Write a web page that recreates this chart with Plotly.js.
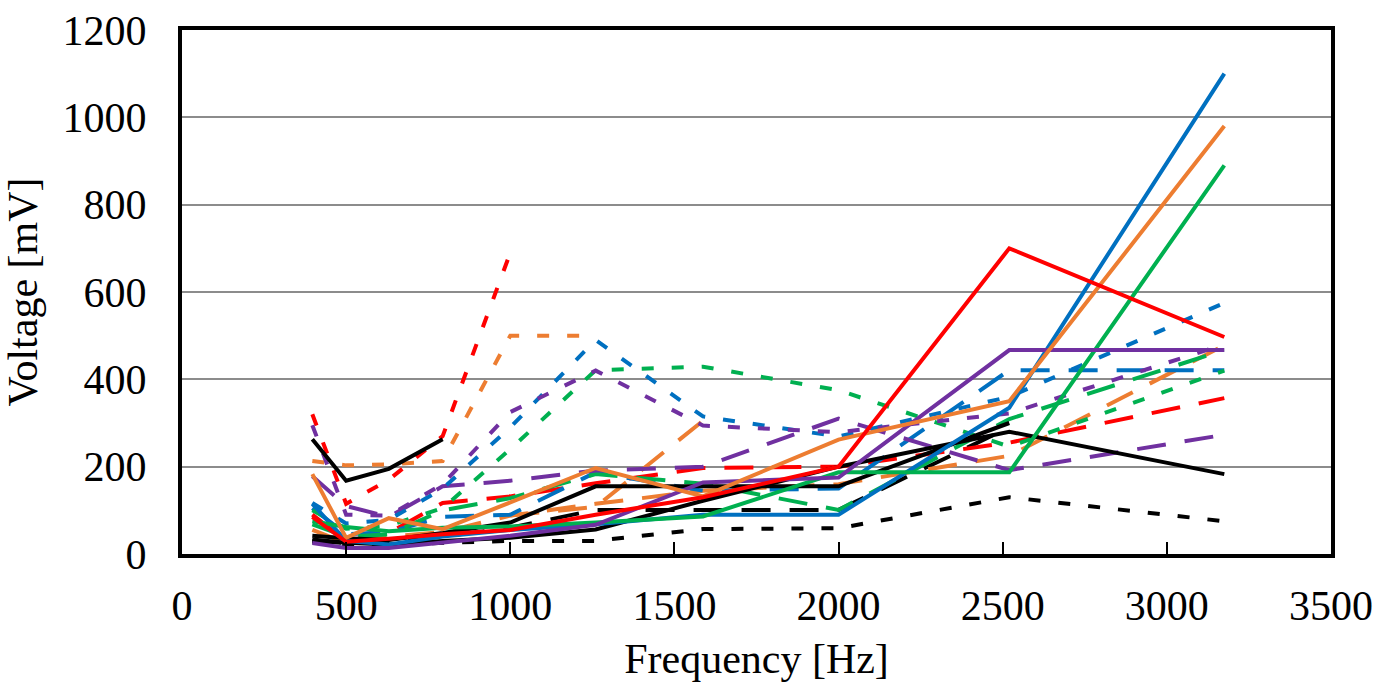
<!DOCTYPE html>
<html>
<head>
<meta charset="utf-8">
<script src="https://cdn.plot.ly/plotly-3.0.1.min.js"></script>
<style>
  html, body { margin: 0; padding: 0; background: #ffffff; }
  #chart { width: 1395px; height: 684px; }
</style>
</head>
<body>
<div id="chart"></div>
<script>
// One-third-octave band centre frequencies [Hz]
const freq = [397, 500, 630, 794, 1000, 1260, 1587, 2000, 2520, 3175];

// Measured voltages [mV]; null = no reading at that band
const blackSolid1  = [263, 168, 195, 263, null, null, null, null, null, null];
const blackSolid2  = [42, 36, 32, 48, 72, 155, 155, 155, 300, null];
const blackSolid3  = [33, 26, 22, 30, 37, 56, 122, 200, 280, 183];
const redSolid     = [85, 28, 35, 45, 55, 90, 130, 200, 700, 497];
const orangeSolid  = [183, 37, 82, 57, 118, 197, 132, 262, 350, 980];
const blueSolid    = [115, 30, 22, 40, 55, 68, 90, 90, 335, 1100];
const greenSolid   = [75, 62, 52, 60, 63, 72, 86, 187, 187, 890];
const purpleSolid  = [25, 14, 14, 26, 42, 67, 164, 175, 467, 467];

const blackShort   = [28, 20, 22, 25, 30, 30, 57, 59, 130, 75];
const redShort     = [320, 115, 170, 270, 690, null, null, null, null, null];
const orangeShort  = [213, 203, 205, 213, 500, 500, null, null, null, null];
const blueShort    = [117, 70, 78, 150, 290, 490, 315, 269, 360, 575];
const greenShort   = [100, 58, 65, 105, 240, 421, 429, 375, 246, 420];
const purpleShort  = [295, 90, 88, 160, 325, 420, 294, 279, 322, 480];

const blackLong    = [30, 25, 28, 40, 60, 101, 101, 101, 290, null];
const redLong      = [90, 30, 48, 117, 132, 162, 197, 200, 255, 357];
const orangeLong1  = [null, null, null, null, 88, 108, 305, null, null, null];
const orangeLong2  = [55, 25, 40, 50, 88, 115, 145, 160, 225, 478];
const blueLong     = [105, 45, 50, 85, 90, 187, 145, 150, 421, 421];
const greenLong    = [68, 40, 45, 100, 128, 183, 161, 101, 309, 467];
const purpleLong   = [178, 110, 85, 155, 168, 191, 200, 310, 192, 273];

const C = {
  black: '#000000', red: '#FF0000', orange: '#ED7D31',
  blue: '#0070C0', green: '#00B050', purple: '#7030A0'
};
const SHORT = '12px,18px';
const LONG = '29px,19px';

function series(y, color, dash) {
  return {
    x: freq, y: y, type: 'scatter', mode: 'lines',
    connectgaps: false, hoverinfo: 'skip',
    line: { color: color, width: 4, dash: dash || 'solid' }
  };
}

const traces = [
  series(blackShort, C.black, SHORT),
  series(blackLong, C.black, LONG),
  series(redLong, C.red, LONG),
  series(orangeLong2, C.orange, LONG),
  series(orangeLong1, C.orange, LONG),
  series(blueLong, C.blue, LONG),
  series(greenLong, C.green, LONG),
  series(purpleLong, C.purple, LONG),
  series(redShort, C.red, SHORT),
  series(orangeShort, C.orange, SHORT),
  series(blueShort, C.blue, SHORT),
  series(greenShort, C.green, SHORT),
  series(purpleShort, C.purple, SHORT),
  series(blackSolid1, C.black),
  series(blackSolid2, C.black),
  series(blackSolid3, C.black),
  series(blueSolid, C.blue),
  series(greenSolid, C.green),
  series(purpleSolid, C.purple),
  series(orangeSolid, C.orange),
  series(redSolid, C.red)
];

const axisFont = { family: 'Liberation Serif, Times New Roman, serif', size: 42, color: '#000000' };

const layout = {
  width: 1395, height: 684,
  margin: { l: 182, r: 64, t: 30, b: 130, pad: 0 },
  paper_bgcolor: '#ffffff', plot_bgcolor: '#ffffff',
  showlegend: false,
  xaxis: {
    range: [0, 3500], dtick: 500, tick0: 0,
    showgrid: false, zeroline: false,
    showline: true, linecolor: '#000000', linewidth: 4, mirror: true,
    ticks: 'inside', ticklen: 12, tickwidth: 2, tickcolor: '#000000',
    tickfont: axisFont, ticklabelstandoff: 12,
    title: { text: 'Frequency [Hz]', font: axisFont, standoff: 16 }
  },
  yaxis: {
    range: [0, 1200], dtick: 200, tick0: 0,
    showgrid: true, gridcolor: '#8c8c8c', gridwidth: 2,
    zeroline: false,
    showline: true, linecolor: '#000000', linewidth: 4, mirror: true,
    ticks: '', tickfont: axisFont, ticklabelstandoff: 23,
    title: { text: 'Voltage [mV]', font: axisFont, standoff: 16 }
  }
};

Plotly.newPlot('chart', traces, layout, { staticPlot: true, displayModeBar: false });
</script>
</body>
</html>
